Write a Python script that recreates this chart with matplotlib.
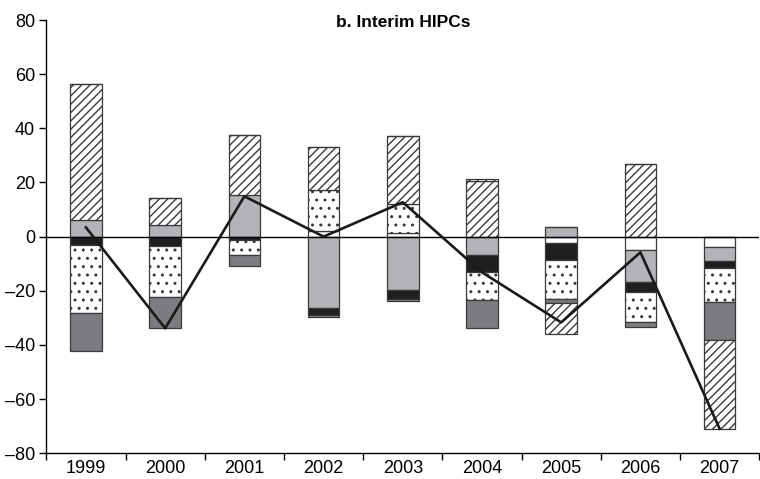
import numpy as np
import matplotlib.pyplot as plt

plt.rcParams["font.family"] = ["Liberation Sans", "DejaVu Sans"]
plt.rcParams["hatch.linewidth"] = 1.0

years = ["1999", "2000", "2001", "2002", "2003", "2004", "2005", "2006", "2007"]

# components, listed in stacking order outward from zero
white_part  = [0.0, 0.0, 0.0, 2.2, 1.2, 0.0, -2.3, -4.9, -3.9]
light_gray  = [6.3, 4.4, 15.2, -26.4, -19.7, -6.7, 3.7, -11.8, -5.0]
black_part  = [-3.0, -3.6, -1.4, -2.4, -3.3, -6.5, -6.3, -3.9, -2.7]
dotted_part = [-25.2, -18.6, -5.4, 15.2, 10.9, -10.2, -14.4, -11.1, -12.7]
dark_gray   = [-14.2, -11.7, -3.9, -0.8, -0.8, -10.3, -1.4, -1.6, -13.9]
hatched     = [50.1, 9.8, 22.4, 15.9, 24.9, 20.5, -11.6, 27.0, -32.8]
top_sliver  = [0.0, 0.0, 0.0, 0.0, 0.0, 0.8, 0.0, 0.0, 0.0]

total_line  = [3.4, -33.9, 14.9, 0.0, 12.7, -13.2, -31.7, -5.8, -71.0]

styles = [
    (white_part,  dict(color="white")),
    (light_gray,  dict(color="#b2b4b7")),
    (black_part,  dict(color="#211e1f")),
    (dotted_part, dict(color="white", hatch="..")),
    (dark_gray,   dict(color="#7b7c7f")),
    (hatched,     dict(color="white", hatch="////")),
    (top_sliver,  dict(color="white", hatch="////")),
]

fig, ax = plt.subplots(figsize=(7.6, 4.79), dpi=100)
fig.subplots_adjust(left=0.061, right=0.999, top=0.958, bottom=0.054)

x = np.arange(len(years))
pos_base = np.zeros(len(years))
neg_base = np.zeros(len(years))
for vals, kw in styles:
    v = np.asarray(vals)
    base = np.where(v >= 0, pos_base, neg_base)
    ax.bar(x, v, width=0.4, bottom=base, edgecolor="#3a3a3a",
           linewidth=0.9, zorder=2, **kw)
    pos_base += np.where(v > 0, v, 0)
    neg_base += np.where(v < 0, v, 0)

ax.axhline(0, color="black", linewidth=1.0, zorder=2.5)
ax.plot(x, total_line, color="#1a1a1a", linewidth=1.9, zorder=3)

ax.set_xlim(-0.5, len(years) - 0.5)
ax.set_ylim(-80, 80)
ax.set_yticks(np.arange(-80, 81, 20))
ax.set_yticklabels([str(t).replace("-", "\u2013") for t in range(-80, 81, 20)])
ax.set_xticks(x)
ax.set_xticklabels(years)
ax.set_xticks(np.arange(-0.5, len(years), 1.0), minor=True)
ax.tick_params(axis="x", which="major", length=0, pad=5, labelsize=13)
ax.tick_params(axis="x", which="minor", length=5, width=1, direction="out")
ax.tick_params(axis="y", length=5, width=1, labelsize=13, pad=3)

for side in ("top", "right"):
    ax.spines[side].set_visible(False)
for side in ("left", "bottom"):
    ax.spines[side].set_linewidth(1.0)

ax.text(0.5, 0.995, "b. Interim HIPCs", transform=ax.transAxes,
        ha="center", va="center", fontsize=12.5, fontweight="bold")

fig.savefig("out.png", dpi=100)
